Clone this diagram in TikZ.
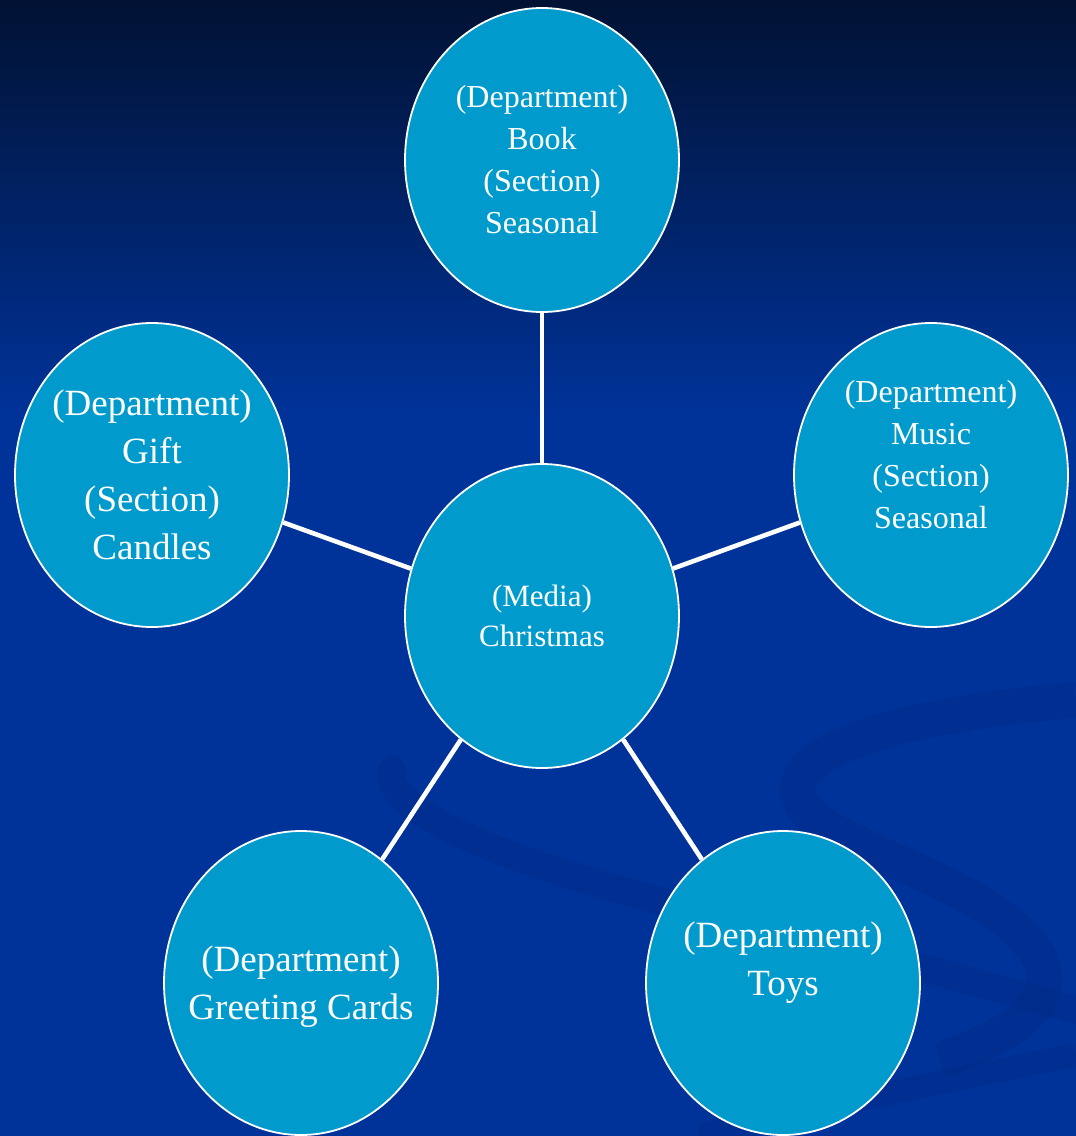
\documentclass[tikz,border=0pt]{standalone}
\usepackage{fontspec}
\setmainfont{Liberation Serif}
\usetikzlibrary{shapes.geometric, positioning}
\definecolor{bgtop}{HTML}{011233}
\definecolor{bgblue}{HTML}{00339A}
\definecolor{swirl}{HTML}{002D89}
\definecolor{bubble}{HTML}{009BCC}
\tikzset{
  bubble/.style={ellipse, draw=white, line width=0.9pt, fill=bubble,
    minimum width=137pt, minimum height=152pt, inner sep=0pt},
  bubbletext/.style={text=white, align=center, inner sep=0pt},
  spoke/.style={draw=white, line width=2.3pt}
}

\begin{document}
\begin{tikzpicture}[x=0.5pt,y=-0.5pt]
    % background
    \fill[bgblue] (0,0) rectangle (1076,1136);
    \shade[top color=bgtop, bottom color=bgblue] (0,0) rectangle (1076,420);
    \useasboundingbox (0,0) rectangle (1076,1136);

    % swirl in the background
    \draw[swirl, opacity=0.5, line width=14pt, line cap=round] (392,770) .. controls (380,820) and (560,880) .. (760,925)
      .. controls (900,960) and (1000,990) .. (1076,1010);
    \draw[swirl, opacity=0.5, line width=18pt] (1076,700) .. controls (900,715) and (780,750) .. (800,800)
      .. controls (820,850) and (1000,880) .. (1040,960) .. controls (1060,1010) and (1000,1040) .. (940,1060);
    \draw[swirl, opacity=0.5, line width=12pt] (700,1136) .. controls (850,1100) and (1000,1070) .. (1076,1055);

    % the bubbles
    \node[bubble, label={[bubbletext, font=\fontsize{16}{21}\selectfont]center:(Department)\\Book\\(Section)\\Seasonal}] (book) at (542,160) {};
    \node[bubble, label={[bubbletext, font=\fontsize{15.5}{20}\selectfont]center:(Media)\\Christmas}] (media) at (542,616) {};
    \node[bubble, label={[bubbletext, font=\fontsize{18.5}{24}\selectfont]center:(Department)\\Gift\\(Section)\\Candles}] (gift) at (152,475) {};
    \node[bubble, label={[bubbletext, font=\fontsize{16}{21}\selectfont, yshift=10pt]center:(Department)\\Music\\(Section)\\Seasonal}] (music) at (931,475) {};
    \node[bubble, label={[bubbletext, font=\fontsize{18.5}{24}\selectfont, yshift=-2pt]center:(Department)\\Greeting Cards}] (cards) at (301,983) {};
    \node[bubble, label={[bubbletext, font=\fontsize{18.5}{24}\selectfont, yshift=10pt]center:(Department)\\Toys}] (toys) at (783,983) {};

    % connect to the middle
    \draw[spoke] (media) -- (book);
    \draw[spoke] (media) -- (gift);
    \draw[spoke] (media) -- (music);
    \draw[spoke] (media) -- (cards);
    \draw[spoke] (media) -- (toys);
\end{tikzpicture}
\end{document}
